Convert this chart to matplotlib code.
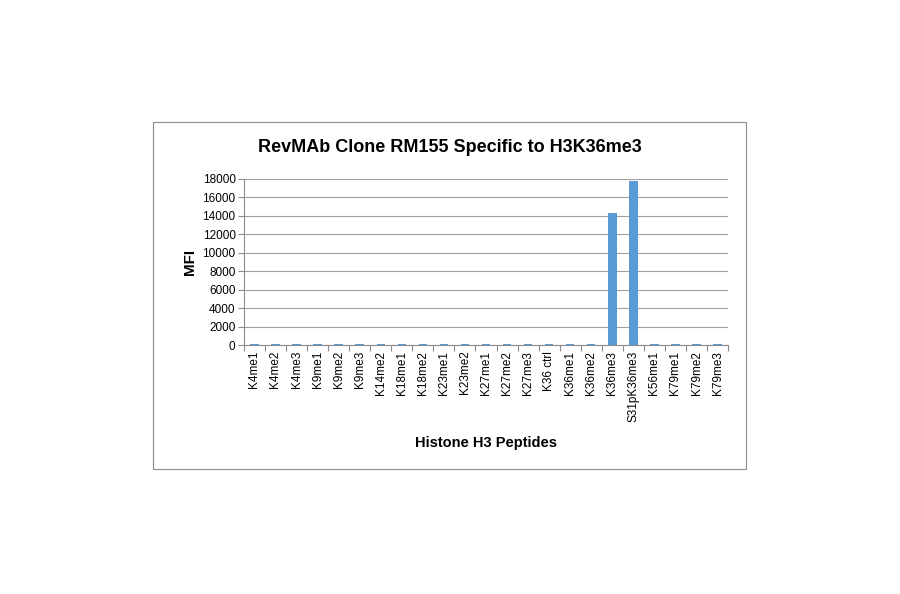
import matplotlib.pyplot as plt
from matplotlib.patches import Rectangle

peptides = ["K4me1", "K4me2", "K4me3", "K9me1", "K9me2", "K9me3", "K14me2",
            "K18me1", "K18me2", "K23me1", "K23me2", "K27me1", "K27me2", "K27me3",
            "K36 ctrl", "K36me1", "K36me2", "K36me3", "S31pK36me3", "K56me1",
            "K79me1", "K79me2", "K79me3"]
mfi = [100, 100, 100, 100, 100, 100, 100, 100, 100, 100, 100, 100, 100, 100,
       100, 100, 100, 14300, 17800, 100, 100, 100, 100]
yticks = list(range(0, 18001, 2000))

plt.rcParams["font.family"] = ["Liberation Sans", "DejaVu Sans"]
fig = plt.figure(figsize=(9, 5.94), dpi=100)
fig.patches.append(Rectangle((153 / 900, 1 - 469 / 594), 593 / 900, 347 / 594,
                             transform=fig.transFigure, fill=False,
                             edgecolor="#8c8c8c", linewidth=0.8))

ax = fig.add_axes([0.271, 0.419, 0.538, 0.280])
x = range(len(peptides))
ax.bar(x, mfi, width=0.4, color="#5b9bd5", zorder=3)
ax.set_xlim(-0.5, len(peptides) - 0.5)
ax.set_ylim(0, 18000)
ax.set_yticks(yticks)
ax.set_yticklabels([str(v) for v in yticks], fontsize=8.5)
ax.set_xticks([i - 0.5 for i in range(len(peptides) + 1)], minor=False)
ax.set_xticklabels([])
ax.set_xticks(list(x), minor=True)
ax.set_xticklabels(peptides, minor=True, rotation=90, fontsize=8.5)
ax.tick_params(axis="x", which="minor", length=0, pad=4)
ax.tick_params(axis="x", which="major", length=4, color="#8c8c8c")
ax.tick_params(axis="y", length=4, color="#8c8c8c", pad=2)
ax.grid(axis="y", color="#a0a0a0", linewidth=0.8, zorder=0)
for s in ["top", "right"]:
    ax.spines[s].set_visible(False)
ax.spines["left"].set_color("#8c8c8c")
ax.spines["bottom"].set_color("#8c8c8c")

ax.set_ylabel("MFI", fontsize=11, fontweight="bold", labelpad=4)
ax.set_xlabel("Histone H3 Peptides", fontsize=10.5, fontweight="bold", labelpad=10)
fig.text(0.5, 1 - 148 / 594, "RevMAb Clone RM155 Specific to H3K36me3",
         ha="center", va="center", fontsize=13, fontweight="bold")

fig.savefig("out.png", dpi=100)
